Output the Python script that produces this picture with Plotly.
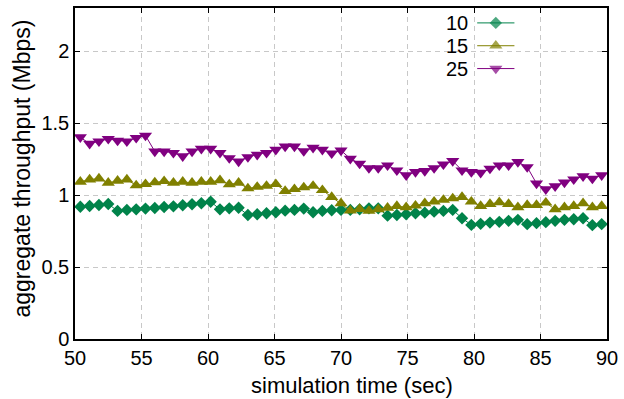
import plotly.graph_objects as go

# ---- data ----
sim_time = [50.4, 51.1, 51.8, 52.5, 53.2, 53.9, 54.6, 55.3, 56.0, 56.7,
            57.4, 58.1, 58.8, 59.5, 60.2, 60.9, 61.6, 62.3, 63.0, 63.7,
            64.4, 65.1, 65.8, 66.5, 67.2, 67.9, 68.6, 69.3, 70.0, 70.7,
            71.4, 72.1, 72.8, 73.5, 74.2, 74.9, 75.6, 76.3, 77.0, 77.7,
            78.4, 79.1, 79.8, 80.5, 81.2, 81.9, 82.6, 83.3, 84.0, 84.7,
            85.4, 86.1, 86.8, 87.5, 88.2, 88.9, 89.6]

thr_10 = [0.919, 0.924, 0.931, 0.938, 0.890, 0.897, 0.901, 0.906, 0.910, 0.917,
          0.922, 0.929, 0.936, 0.943, 0.954, 0.901, 0.908, 0.912, 0.862, 0.867,
          0.874, 0.881, 0.892, 0.897, 0.906, 0.881, 0.890, 0.895, 0.897, 0.897,
          0.901, 0.908, 0.908, 0.857, 0.862, 0.867, 0.874, 0.878, 0.885, 0.890,
          0.897, 0.839, 0.793, 0.800, 0.809, 0.814, 0.821, 0.828, 0.798, 0.805,
          0.812, 0.821, 0.828, 0.832, 0.839, 0.791, 0.798]

thr_15 = [1.092, 1.108, 1.115, 1.085, 1.099, 1.108, 1.067, 1.076, 1.088, 1.097,
          1.085, 1.092, 1.085, 1.092, 1.092, 1.103, 1.074, 1.085, 1.046, 1.057,
          1.064, 1.076, 1.028, 1.041, 1.053, 1.064, 1.034, 0.986, 0.943, 0.892,
          0.903, 0.890, 0.901, 0.912, 0.924, 0.915, 0.926, 0.943, 0.954, 0.966,
          0.977, 0.986, 0.954, 0.924, 0.938, 0.950, 0.938, 0.915, 0.931, 0.931,
          0.947, 0.901, 0.915, 0.924, 0.943, 0.915, 0.924]

thr_25 = [1.402, 1.357, 1.374, 1.391, 1.379, 1.374, 1.398, 1.414, 1.303, 1.303,
          1.294, 1.270, 1.303, 1.322, 1.322, 1.294, 1.257, 1.234, 1.264, 1.281,
          1.294, 1.315, 1.338, 1.338, 1.306, 1.329, 1.315, 1.290, 1.310, 1.253,
          1.219, 1.188, 1.188, 1.207, 1.172, 1.138, 1.161, 1.168, 1.188, 1.214,
          1.237, 1.172, 1.161, 1.156, 1.184, 1.207, 1.207, 1.230, 1.195, 1.081,
          1.041, 1.062, 1.088, 1.110, 1.131, 1.115, 1.138]

series_names = ["10", "15", "25"]
x_ticks = [50, 55, 60, 65, 70, 75, 80, 85, 90]
y_ticks = [0, 0.5, 1, 1.5, 2]

# ---- styles ----
FONT = "Liberation Sans, Arial, Helvetica, sans-serif"
colors = ["#00834a", "#808000", "#800080"]
symbols = ["diamond", "triangle-up", "triangle-down"]
sizes = [9.5, 11.5, 11.5]
data = [thr_10, thr_15, thr_25]

fig = go.Figure()
for name, ys, c, s, sz in zip(series_names, data, colors, symbols, sizes):
    fig.add_trace(go.Scatter(
        x=sim_time, y=ys, mode="lines+markers", name=name,
        line=dict(color=c, width=1),
        marker=dict(symbol=s, size=sz, color=c, line=dict(width=0)),
        showlegend=False))

# custom gnuplot-style legend (text left, sample right) on an overlay axis
leg_x0, leg_x1 = 0.7560, 0.8260
leg_rows = [0.955, 0.886, 0.817]
for name, c, s, sz, yy in zip(series_names, colors, symbols, sizes, leg_rows):
    fig.add_trace(go.Scatter(
        x=[leg_x0, (leg_x0 + leg_x1) / 2, leg_x1], y=[yy, yy, yy],
        mode="lines+markers", xaxis="x2", yaxis="y2",
        line=dict(color=c, width=1),
        marker=dict(symbol=s, size=[0, sz, 0], color=c, line=dict(width=0)),
        showlegend=False, hoverinfo="skip"))
    fig.add_annotation(x=0.743, y=yy, xref="paper", yref="paper",
                       text=name, showarrow=False, xanchor="right",
                       yanchor="middle", font=dict(family=FONT, size=20, color="black"))

axis_common = dict(showline=True, linecolor="black", linewidth=1.5, mirror="ticks",
                   ticks="inside", ticklen=5, tickcolor="black", tickwidth=1,
                   showgrid=True, gridcolor="#c8c8c8", gridwidth=1, griddash="5px,4px",
                   zeroline=False, tickfont=dict(family=FONT, size=20, color="black"))

fig.update_layout(
    width=624, height=399,
    margin=dict(l=75, r=12, t=6, b=60),
    plot_bgcolor="white", paper_bgcolor="white",
    xaxis=dict(range=[50, 90], tickvals=x_ticks, **axis_common),
    yaxis=dict(range=[0, 2.3], tickvals=y_ticks, ticktext=["0", "0.5", "1", "1.5", "2"],
               **axis_common),
    xaxis2=dict(overlaying="x", range=[0, 1], visible=False),
    yaxis2=dict(overlaying="y", range=[0, 1], visible=False),
    font=dict(family=FONT, color="black"),
)

fig.add_annotation(x=0.5214, y=-0.141, xref="paper", yref="paper",
                   text="simulation time (sec)", showarrow=False,
                   xanchor="center", yanchor="middle",
                   font=dict(family=FONT, size=22, color="black"))
fig.add_annotation(x=-0.0987, y=0.5165, xref="paper", yref="paper",
                   text="aggregate throughput (Mbps)", showarrow=False, textangle=-90,
                   xanchor="center", yanchor="middle",
                   font=dict(family=FONT, size=23, color="black"))

fig.write_html("out.html")
